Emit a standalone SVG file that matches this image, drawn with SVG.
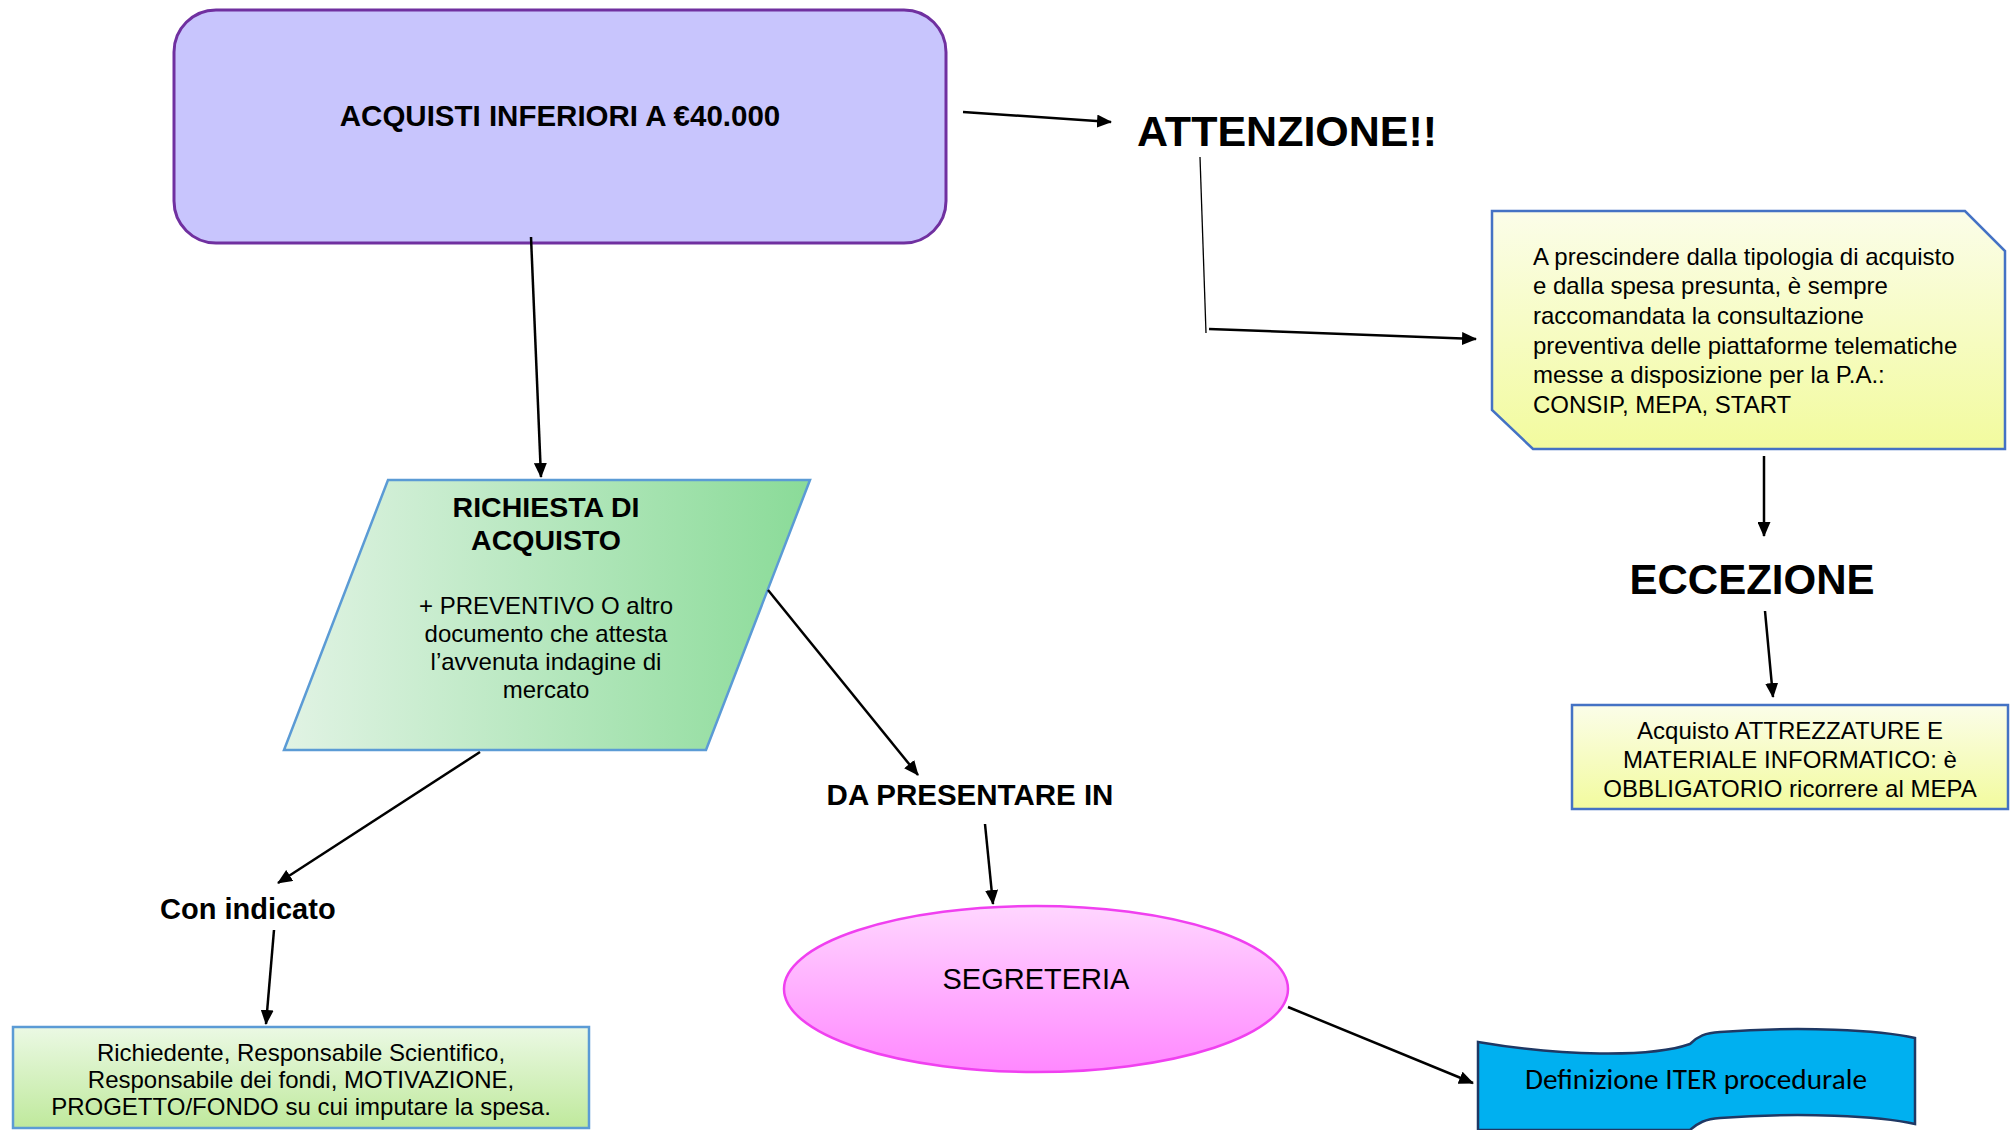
<svg xmlns="http://www.w3.org/2000/svg" width="2016" height="1130" viewBox="0 0 2016 1130">
<style>
.t{font-family:"Liberation Sans",Arial,sans-serif;fill:#000}
.b{font-weight:bold}
.c{text-anchor:middle}
.con line{stroke:#000;stroke-width:2.5;marker-end:url(#ah)}
</style>
<defs>
<marker id="ah" markerUnits="userSpaceOnUse" markerWidth="15" markerHeight="13" refX="14" refY="6.5" orient="auto" viewBox="0 0 15 13">
<path d="M0,0 L15,6.5 L0,13 Z" fill="#000"/>
</marker>
<linearGradient id="gNote" x1="0" y1="0" x2="0" y2="1"><stop offset="0" stop-color="#fbfde9"/><stop offset="1" stop-color="#f2fb9e"/></linearGradient>
<linearGradient id="gPar" x1="0" y1="0" x2="1" y2="0"><stop offset="0" stop-color="#e1f3e4"/><stop offset="1" stop-color="#8adb98"/></linearGradient>
<linearGradient id="gGreen" x1="0" y1="0" x2="0" y2="1"><stop offset="0" stop-color="#ebf9e4"/><stop offset="1" stop-color="#bfe99c"/></linearGradient>
<linearGradient id="gPink" x1="0" y1="0" x2="0" y2="1"><stop offset="0" stop-color="#ffd6ff"/><stop offset="1" stop-color="#ff88ff"/></linearGradient>
</defs>

<g id="acquisti">
<rect x="174" y="10" width="772" height="233" rx="42" ry="42" fill="#c8c5fd" stroke="#7030a0" stroke-width="3"/>
<text class="t b c" x="560" y="126" font-size="29.5">ACQUISTI INFERIORI A €40.000</text>
</g>

<g id="attenzione">
<text class="t b" x="1137" y="146" font-size="43">ATTENZIONE!!</text>
</g>

<g id="nota">
<path d="M1492,211 L1965,211 L2005,251 L2005,449 L1533,449 L1492,410 Z" fill="url(#gNote)" stroke="#4472c4" stroke-width="2.5"/>
<g class="t" font-size="24">
<text x="1533" y="265">A prescindere dalla tipologia di acquisto</text>
<text x="1533" y="294">e dalla spesa presunta, è sempre</text>
<text x="1533" y="324">raccomandata la consultazione</text>
<text x="1533" y="354">preventiva delle piattaforme telematiche</text>
<text x="1533" y="383">messe a disposizione per la P.A.:</text>
<text x="1533" y="413">CONSIP, MEPA, START</text>
</g>
</g>

<g id="eccezione">
<text class="t b c" x="1752" y="594" font-size="42">ECCEZIONE</text>
</g>

<g id="mepa">
<rect x="1572" y="705" width="436" height="104" fill="url(#gNote)" stroke="#4472c4" stroke-width="2.5"/>
<g class="t c" font-size="24">
<text x="1790" y="739">Acquisto ATTREZZATURE E</text>
<text x="1790" y="768">MATERIALE INFORMATICO: è</text>
<text x="1790" y="797">OBBLIGATORIO ricorrere al MEPA</text>
</g>
</g>

<g id="richiesta">
<path d="M388,480 L810,480 L706,750 L284,750 Z" fill="url(#gPar)" stroke="#5b9bd5" stroke-width="2.5"/>
<g class="t b c" font-size="28.5">
<text x="546" y="517">RICHIESTA DI</text>
<text x="546" y="550">ACQUISTO</text>
</g>
<g class="t c" font-size="24">
<text x="546" y="614">+ PREVENTIVO O altro</text>
<text x="546" y="642">documento che attesta</text>
<text x="546" y="670">l’avvenuta indagine di</text>
<text x="546" y="698">mercato</text>
</g>
</g>

<g id="con-indicato">
<text class="t b" x="160" y="919" font-size="29">Con indicato</text>
</g>

<g id="dati">
<rect x="13" y="1027" width="576" height="101" fill="url(#gGreen)" stroke="#5b9bd5" stroke-width="2.5"/>
<g class="t c" font-size="24">
<text x="301" y="1061">Richiedente, Responsabile Scientifico,</text>
<text x="301" y="1088">Responsabile dei fondi, MOTIVAZIONE,</text>
<text x="301" y="1115">PROGETTO/FONDO su cui imputare la spesa.</text>
</g>
</g>

<g id="da-presentare">
<text class="t b c" x="970" y="805" font-size="29.5">DA PRESENTARE IN</text>
</g>

<g id="segreteria">
<ellipse cx="1036" cy="989" rx="252" ry="83" fill="url(#gPink)" stroke="#f040f0" stroke-width="2.5"/>
<text class="t c" x="1036" y="989" font-size="29">SEGRETERIA</text>
</g>

<g id="iter">
<path d="M1478,1042 C1560,1056 1650,1058 1690,1044 C1698,1036 1705,1033 1720,1032 C1800,1026 1880,1030 1915,1038 L1915,1124 C1880,1116 1800,1112 1720,1118 C1705,1119 1698,1123 1690,1130 L1478,1130 Z" fill="#00b0f0" stroke="#1f3864" stroke-width="2.5"/>
<text x="1696" y="1089" font-family="Carlito,Lato,'Open Sans',sans-serif" font-size="28" text-anchor="middle" textLength="342" lengthAdjust="spacingAndGlyphs" fill="#000">Definizione ITER procedurale</text>
</g>

<g id="connectors" class="con">
<line x1="963" y1="112" x2="1111" y2="122"/>
<polyline points="1200,157 1206,333" fill="none" stroke="#000" stroke-width="1.3"/>
<line x1="1209" y1="329" x2="1476" y2="339"/>
<line x1="1764" y1="456" x2="1764" y2="536"/>
<line x1="1765" y1="611" x2="1773" y2="697"/>
<line x1="531" y1="237" x2="541" y2="477"/>
<line x1="480" y1="752" x2="278" y2="883"/>
<line x1="274" y1="930" x2="266" y2="1024"/>
<line x1="768" y1="590" x2="918" y2="775"/>
<line x1="985" y1="824" x2="993" y2="904"/>
<line x1="1288" y1="1007" x2="1473" y2="1083"/>
</g>
</svg>
